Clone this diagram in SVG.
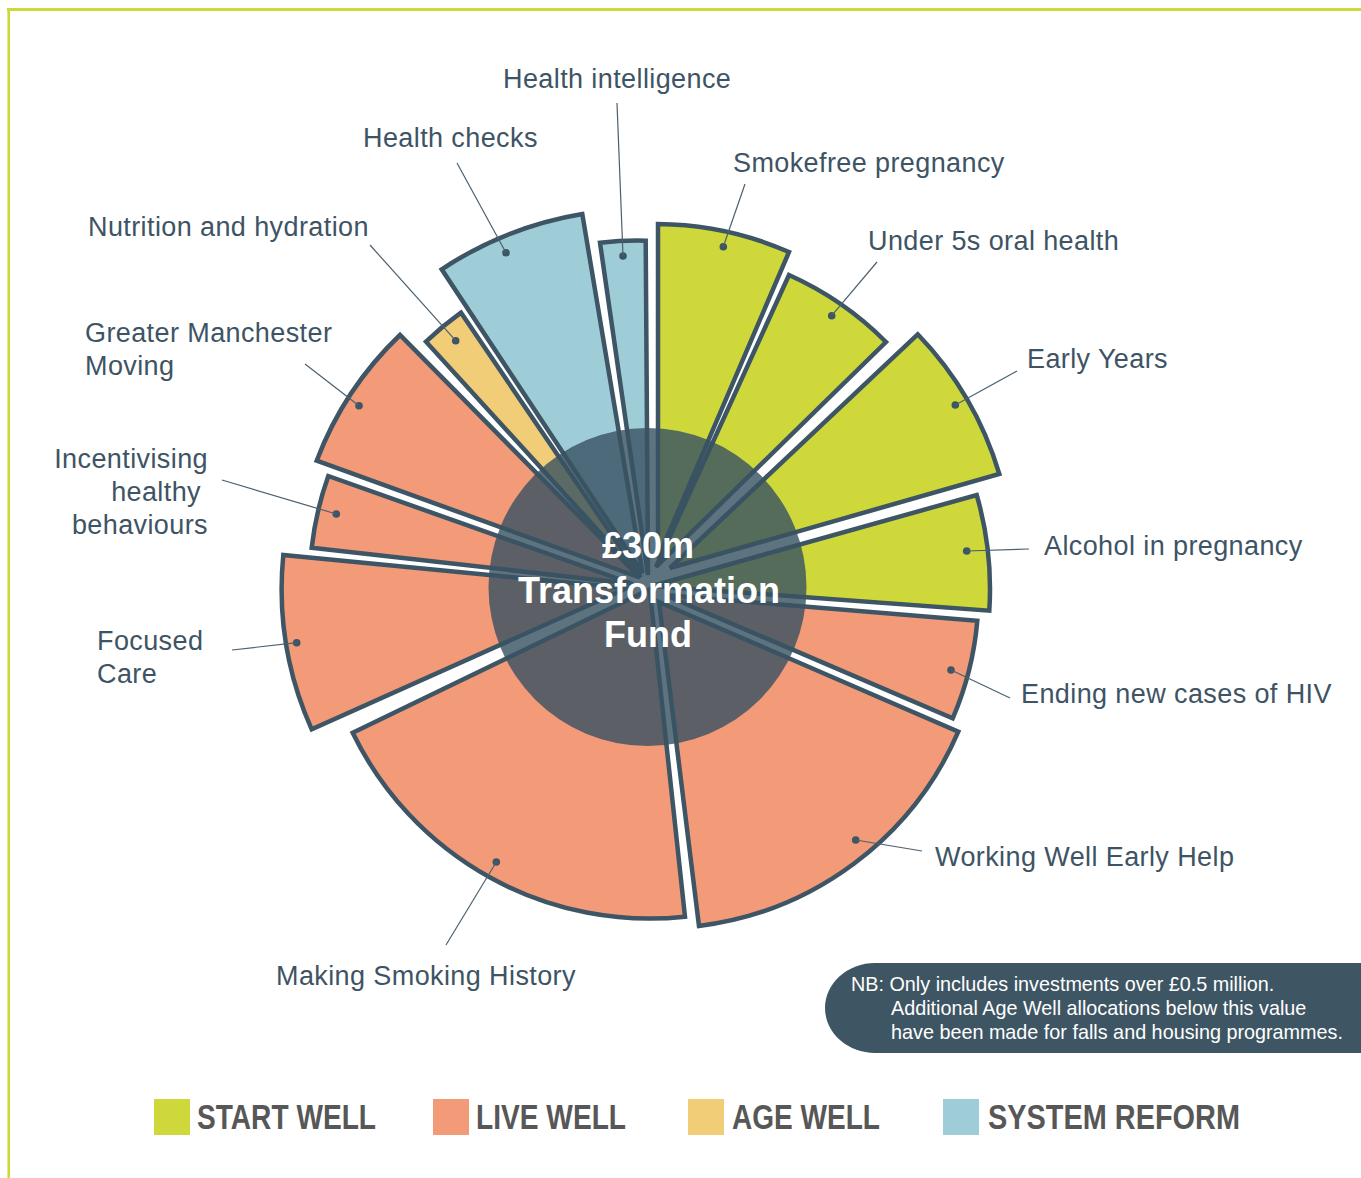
<svg xmlns="http://www.w3.org/2000/svg" width="1361" height="1178" viewBox="0 0 1361 1178">
<style>
.w{stroke:#3d5565;stroke-width:4.5;stroke-linejoin:miter}
.sw{fill:#cfd83a}.lw{fill:#f39a78}.aw{fill:#f2cd78}.sr{fill:#9ecdd7}
.lbl{font-family:"Liberation Sans",Arial,sans-serif;font-size:27px;letter-spacing:0.4px;fill:#3e5464}
.dot{fill:#3d5565}
.ldr{stroke:#4a6070;stroke-width:1.2;fill:none}
.ctr{font-family:"Liberation Sans",Arial,sans-serif;font-size:36px;font-weight:bold;fill:#ffffff;text-anchor:middle}
.leg{font-family:"Liberation Sans Narrow","Liberation Sans",Arial,sans-serif;font-size:35px;font-weight:bold;fill:#575757}
.note{font-family:"Liberation Sans",Arial,sans-serif;font-size:19.8px;fill:#ffffff}
</style>
<rect width="1361" height="1178" fill="#ffffff"/>
<g id="frame" fill="none" stroke="#cfd83a">
<line x1="7" y1="9.5" x2="1361" y2="9.5" stroke-width="3"/>
<line x1="8.7" y1="8" x2="8.7" y2="1178" stroke-width="2.6"/>
</g>
<g id="wedges">
<g id="health-intelligence"><path class="w sr" d="M648,575 L600,242.7 A335,335 0 0 1 645.7,240.7 Z"/><circle class="dot" cx="623" cy="256" r="3.8"/><text class="lbl" x="503" y="88">Health intelligence</text></g>
<g id="smokefree-pregnancy"><path class="w sw" d="M658,558 L658,224 A333.5,333.5 0 0 1 789,252 Z"/><circle class="dot" cx="723.3" cy="246.7" r="3.8"/><text class="lbl" x="733" y="172">Smokefree pregnancy</text></g>
<g id="under-5s-oral-health"><path class="w sw" d="M656,567 L789,275 A321,321 0 0 1 886,342 Z"/><circle class="dot" cx="831.7" cy="315.7" r="3.8"/><text class="lbl" x="868" y="250">Under 5s oral health</text></g>
<g id="early-years"><path class="w sw" d="M670,568 L917.7,334.3 A341.5,341.5 0 0 1 999.3,474 Z"/><circle class="dot" cx="955.3" cy="405" r="3.8"/><text class="lbl" x="1027" y="368">Early Years</text></g>
<g id="alcohol-in-pregnancy"><path class="w sw" d="M652,586 L976.7,495 A337.7,337.7 0 0 1 989.3,610.7 Z"/><circle class="dot" cx="966.7" cy="551" r="3.8"/><text class="lbl" x="1044" y="555">Alcohol in pregnancy</text></g>
<g id="ending-hiv"><path class="w lw" d="M665,595 L977.3,620.7 A313,313 0 0 1 952.7,718.3 Z"/><circle class="dot" cx="951" cy="670" r="3.8"/><text class="lbl" x="1021" y="703">Ending new cases of HIV</text></g>
<g id="working-well"><path class="w lw" d="M659,602 L958.3,731.7 A326.3,326.3 0 0 1 699,926 Z"/><circle class="dot" cx="855.7" cy="840" r="3.8"/><text class="lbl" x="935" y="866">Working Well Early Help</text></g>
<g id="making-smoking-history"><path class="w lw" d="M649.7,589.3 L685,916.7 A330,330 0 0 1 352.7,732.7 Z"/><circle class="dot" cx="496.3" cy="862" r="3.8"/><text class="lbl" x="276" y="985">Making Smoking History</text></g>
<g id="focused-care"><path class="w lw" d="M626.8,588.2 L311.7,729.3 A345,345 0 0 1 283.3,555 Z"/><circle class="dot" cx="296.7" cy="642.7" r="3.8"/><text class="lbl" x="97" y="650">Focused</text><text class="lbl" x="97" y="683">Care</text></g>
<g id="incentivising"><path class="w lw" d="M633,584 L311.7,547.7 A323.3,323.3 0 0 1 328.3,476 Z"/><circle class="dot" cx="336.3" cy="514" r="3.8"/><text class="lbl" x="208" y="468" text-anchor="end">Incentivising</text><text class="lbl" x="201" y="501" text-anchor="end">healthy</text><text class="lbl" x="208" y="534" text-anchor="end">behaviours</text></g>
<g id="gm-moving"><path class="w lw" d="M639.7,577.5 L316.7,460.7 A342,342 0 0 1 400,335 Z"/><circle class="dot" cx="359" cy="405.7" r="3.8"/><text class="lbl" x="85" y="342">Greater Manchester</text><text class="lbl" x="85" y="375">Moving</text></g>
<g id="nutrition-hydration"><path class="w aw" d="M640.8,577.4 L426,341.7 A319.5,319.5 0 0 1 461,312.7 Z"/><circle class="dot" cx="455.7" cy="340.7" r="3.8"/><text class="lbl" x="88" y="236">Nutrition and hydration</text></g>
<g id="health-checks"><path class="w sr" d="M642.5,573 L441.7,269.3 A364,364 0 0 1 582.3,214 Z"/><circle class="dot" cx="506" cy="252.7" r="3.8"/><text class="lbl" x="363" y="147">Health checks</text></g>
</g>
<g id="centre">
<circle cx="647.5" cy="587" r="159" fill="#395362" fill-opacity="0.81"/>
<text class="ctr" x="648" y="558">£30m</text>
<text class="ctr" x="649" y="603">Transformation</text>
<text class="ctr" x="648" y="647">Fund</text>
</g>
<g id="connectors" class="ldr">
<line x1="617" y1="103" x2="623" y2="256"/>
<line x1="457" y1="163" x2="506" y2="252.7"/>
<line x1="745" y1="184" x2="723.3" y2="246.7"/>
<line x1="370" y1="245" x2="455.7" y2="340.7"/>
<line x1="877" y1="262" x2="831.7" y2="315.7"/>
<line x1="305" y1="364" x2="359" y2="405.7"/>
<line x1="1017" y1="371" x2="955.3" y2="405"/>
<line x1="222" y1="480" x2="336.3" y2="514"/>
<line x1="1029" y1="549" x2="966.7" y2="551"/>
<line x1="232" y1="650" x2="296.7" y2="642.7"/>
<line x1="1010" y1="698" x2="951" y2="670"/>
<line x1="922" y1="851" x2="855.7" y2="840"/>
<line x1="446" y1="945" x2="496.3" y2="862"/>
</g>
<g id="note">
<path d="M1361,963 L875,963 A50,45 0 0 0 825,1008 A50,45 0 0 0 875,1053 L1361,1053 Z" fill="#3e5563"/>
<text class="note" x="851" y="991">NB: Only includes investments over £0.5 million.</text>
<text class="note" x="891" y="1015">Additional Age Well allocations below this value</text>
<text class="note" x="891" y="1039">have been made for falls and housing programmes.</text>
</g>
<g id="legend">
<rect x="154" y="1099" width="36" height="36" fill="#cfd83a"/>
<text class="leg" x="197" y="1129" textLength="179" lengthAdjust="spacingAndGlyphs">START WELL</text>
<rect x="433" y="1099" width="36" height="36" fill="#f39a78"/>
<text class="leg" x="476" y="1129" textLength="150" lengthAdjust="spacingAndGlyphs">LIVE WELL</text>
<rect x="688" y="1099" width="36" height="36" fill="#f2cd78"/>
<text class="leg" x="732" y="1129" textLength="148" lengthAdjust="spacingAndGlyphs">AGE WELL</text>
<rect x="943" y="1099" width="36" height="36" fill="#9ecdd7"/>
<text class="leg" x="988" y="1129" textLength="252" lengthAdjust="spacingAndGlyphs">SYSTEM REFORM</text>
</g>
</svg>
